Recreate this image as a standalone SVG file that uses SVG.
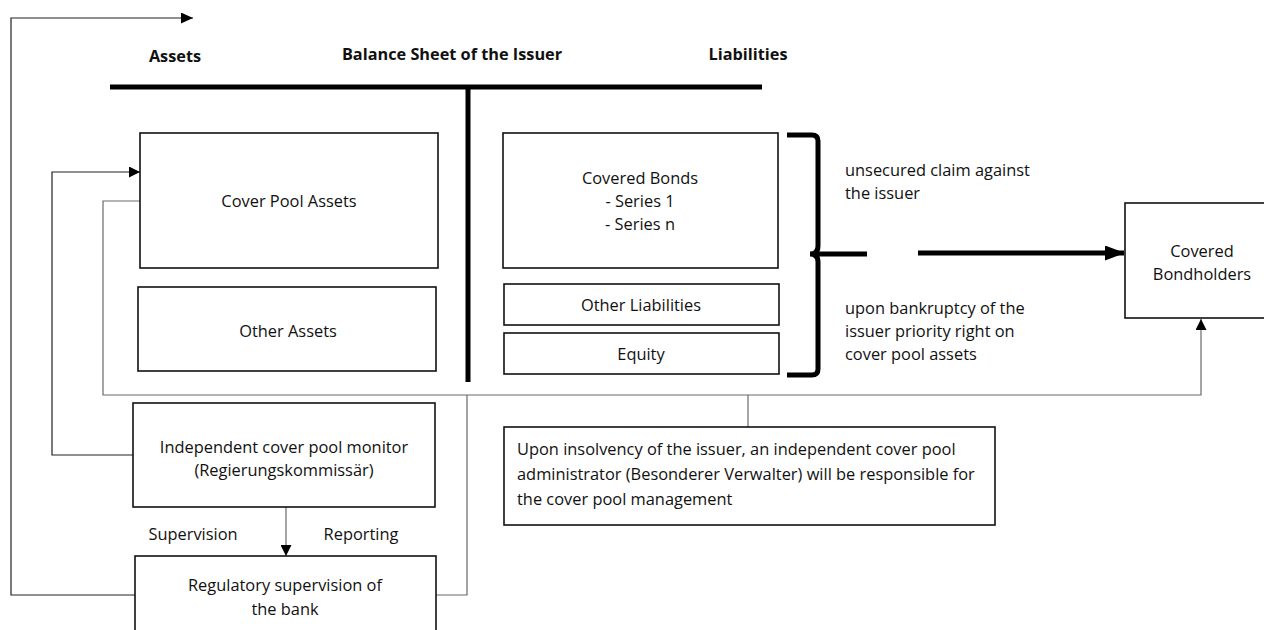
<svg xmlns="http://www.w3.org/2000/svg" width="1264" height="630" viewBox="0 0 1264 630">
<style>
.box{fill:#fff;stroke:#111;stroke-width:1.6}
.t{font-family:"Open Sans","Noto Sans","Liberation Sans",sans-serif;font-size:16.4px;fill:#111}
.c{text-anchor:middle}
.h{font-family:"Open Sans","Noto Sans","Liberation Sans",sans-serif;font-size:16.3px;font-weight:bold;fill:#111;text-anchor:middle}
.thin{fill:none;stroke:#6a6a6a;stroke-width:1.2}
.blk{fill:none;stroke:#222;stroke-width:1.2}
.thick{fill:none;stroke:#000;stroke-width:5}
</style>
<defs>
<marker id="ah" markerWidth="11" markerHeight="11" refX="11" refY="5.5" orient="auto" markerUnits="userSpaceOnUse"><path d="M0,0 L11,5.5 L0,11 Z" fill="#000"/></marker>
<marker id="ahs" markerWidth="12" markerHeight="11" refX="12" refY="5.5" orient="auto" markerUnits="userSpaceOnUse"><path d="M0,0 L12,5.5 L0,11 Z" fill="#000"/></marker>
<marker id="ahb" markerWidth="20" markerHeight="15" refX="19" refY="7.5" orient="auto" markerUnits="userSpaceOnUse"><path d="M0,0 L20,7.5 L0,15 Z" fill="#000"/></marker>
</defs>
<rect width="1264" height="630" fill="#fff"/>

<g id="headings">
<text class="h" x="175" y="62">Assets</text>
<text class="h" x="452" y="60">Balance Sheet of the Issuer</text>
<text class="h" x="748" y="60">Liabilities</text>
</g>

<g id="balance-sheet-frame">
<line class="thick" x1="110" y1="87" x2="762" y2="87"/>
<line class="thick" x1="468" y1="87" x2="468" y2="382"/>
</g>

<g id="connectors">
<polyline class="blk" points="135,595 11,595 11,18 193,18" marker-end="url(#ahs)"/>
<polyline class="blk" points="133,455 52,455 52,172 140,172" marker-end="url(#ah)"/>
<polyline class="thin" points="140,201 103,201 103,395 1201,395 1201,319" marker-end="url(#ah)"/>
<polyline class="thin" points="436,595 467,595 467,395"/>
<line class="thin" x1="748" y1="395" x2="748" y2="427"/>
<line class="thin" x1="286" y1="507" x2="286" y2="556" marker-end="url(#ah)"/>
<path class="thick" d="M787,135 L812,135 Q818,135 818,141 L818,246 Q818,254 810,254 L867,254 M810,254 Q818,254 818,262 L818,369 Q818,375 812,375 L787,375"/>
<line x1="918" y1="253" x2="1124" y2="253" stroke="#000" stroke-width="5" marker-end="url(#ahb)"/>
</g>

<g id="cover-pool-assets">
<rect class="box" x="140" y="133" width="298" height="135"/>
<text class="t c" x="289" y="207">Cover Pool Assets</text>
</g>
<g id="other-assets">
<rect class="box" x="138" y="287" width="298" height="84"/>
<text class="t c" x="288" y="337">Other Assets</text>
</g>
<g id="covered-bonds">
<rect class="box" x="503" y="133" width="275" height="135"/>
<text class="t c" x="640" y="184">Covered Bonds</text>
<text class="t c" x="640" y="207">- Series 1</text>
<text class="t c" x="640" y="230">- Series n</text>
</g>
<g id="other-liabilities">
<rect class="box" x="504" y="284" width="275" height="41"/>
<text class="t c" x="641" y="311">Other Liabilities</text>
</g>
<g id="equity">
<rect class="box" x="504" y="333" width="275" height="41"/>
<text class="t c" x="641" y="360">Equity</text>
</g>
<g id="brace-labels">
<text class="t" x="845" y="176">unsecured claim against</text>
<text class="t" x="845" y="199">the issuer</text>
<text class="t" x="845" y="314">upon bankruptcy of the</text>
<text class="t" x="845" y="337">issuer priority right on</text>
<text class="t" x="845" y="360">cover pool assets</text>
</g>
<g id="covered-bondholders">
<rect class="box" x="1125" y="203" width="160" height="115"/>
<text class="t c" x="1202" y="257">Covered</text>
<text class="t c" x="1202" y="280">Bondholders</text>
</g>
<g id="monitor">
<rect class="box" x="133" y="403" width="302" height="104"/>
<text class="t c" x="284" y="453">Independent cover pool monitor</text>
<text class="t c" x="284" y="476">(Regierungskommissär)</text>
</g>
<g id="flow-labels">
<text class="t c" x="193" y="540">Supervision</text>
<text class="t c" x="361" y="540">Reporting</text>
</g>
<g id="regulatory">
<rect class="box" x="135" y="556" width="301" height="90"/>
<text class="t c" x="285" y="591">Regulatory supervision of</text>
<text class="t c" x="285" y="615">the bank</text>
</g>
<g id="administrator">
<rect class="box" x="504" y="427" width="491" height="98"/>
<text class="t" x="517" y="455">Upon insolvency of the issuer, an independent cover pool</text>
<text class="t" x="517" y="480">administrator (Besonderer Verwalter) will be responsible for</text>
<text class="t" x="517" y="505">the cover pool management</text>
</g>
</svg>
